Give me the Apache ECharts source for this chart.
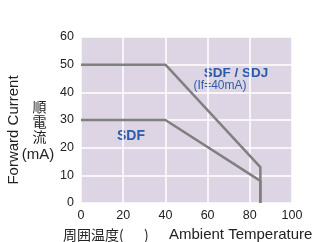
<!DOCTYPE html>
<html><head><meta charset="utf-8">
<script src="https://cdn.jsdelivr.net/npm/echarts@6/dist/echarts.min.js"></script>
<style>html,body{margin:0;padding:0;background:#fff}#c{width:329px;height:242px}</style>
</head><body><div id="c"></div>
<script>
const xTicks = [0, 20, 40, 60, 80, 100];
const yTicks = [0, 10, 20, 30, 40, 50, 60];
const sdjCurve = [[0, 50], [40, 50], [85, 13], [85, 0]];
const sdfCurve = [[0, 30], [40, 30], [85, 8], [85, 0]];
const seriesNames = ['SDF / SDJ', 'SDF'];

const chart = echarts.init(document.getElementById('c'));
const font = '"Liberation Sans", Arial, sans-serif';
const cjk = '"Noto Sans CJK JP", sans-serif';
const blue = '#2b5bab';
const ink = '#222';
function t(id, x, y, text, f, extra) {
  return Object.assign({ type: 'text', id: id, x: x, y: y, rotation: 0,
    style: { text: text, font: f, fill: ink, align: 'center', verticalAlign: 'middle' } }, extra || {});
}
chart.setOption({
  animation: false,
  grid: { left: 81, right: 37, top: 37, bottom: 39, show: true, backgroundColor: '#ddd5e3', borderWidth: 0 },
  xAxis: {
    type: 'value', min: xTicks[0], max: xTicks[xTicks.length - 1], interval: 20,
    axisLine: { show: false }, axisTick: { show: false },
    splitLine: { show: true, lineStyle: { color: '#ffffff', width: 1.5 } },
    axisLabel: { color: ink, fontSize: 12.5, fontFamily: font, margin: 6 }
  },
  yAxis: {
    type: 'value', min: yTicks[0], max: yTicks[yTicks.length - 1], interval: 10,
    axisLine: { show: false }, axisTick: { show: false },
    splitLine: { show: true, lineStyle: { color: '#ffffff', width: 1.5 } },
    axisLabel: { color: ink, fontSize: 12.5, fontFamily: font, margin: 7 }
  },
  series: [
    { name: seriesNames[0], type: 'line', data: sdjCurve, symbol: 'none',
      lineStyle: { color: '#808080', width: 2.5 } },
    { name: seriesNames[1], type: 'line', data: sdfCurve, symbol: 'none',
      lineStyle: { color: '#808080', width: 2.5 } }
  ],
  graphic: [
    { type: 'text', id: 'l1', x: 236, y: 73, rotation: 0, style: { text: seriesNames[0], font: 'bold 13.5px ' + font, fill: blue, align: 'center', verticalAlign: 'middle' } },
    { type: 'text', id: 'l2', x: 220, y: 86, rotation: 0, style: { text: '(If=40mA)', font: '12px ' + font, fill: blue, align: 'center', verticalAlign: 'middle' } },
    { type: 'text', id: 'l3', x: 131, y: 136, rotation: 0, style: { text: seriesNames[1], font: 'bold 14px ' + font, fill: blue, align: 'center', verticalAlign: 'middle' } },
    t('fc', 14, 130, 'Forward Current', '15px ' + font, { rotation: Math.PI / 2 }),
    t('j1', 39.5, 107, '順', '14px ' + cjk),
    t('j2', 39.5, 122, '電', '14px ' + cjk),
    t('j3', 39.5, 137, '流', '14px ' + cjk),
    t('ma', 38, 155, '(mA)', '15px ' + font),
    { type: 'text', id: 'xn1', x: 63, y: 235, rotation: 0, style: { text: '周囲温度(　  )', font: '14px ' + cjk, fill: ink, align: 'left', verticalAlign: 'middle' } },
    { type: 'text', id: 'xn2', x: 169, y: 235, rotation: 0, style: { text: 'Ambient Temperature', font: '15px ' + font, fill: ink, align: 'left', verticalAlign: 'middle' } }
  ]
});
</script></body></html>
